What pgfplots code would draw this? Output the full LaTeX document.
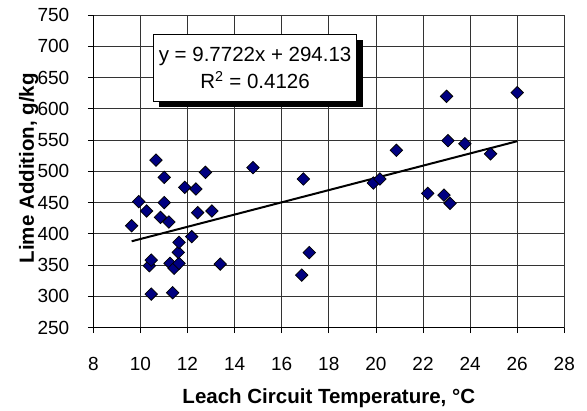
\documentclass[border=0pt]{standalone}
\usepackage{fontspec}
\setmainfont{Liberation Sans}
\usepackage{pgfplots}
\pgfplotsset{compat=1.18}
\definecolor{navy}{HTML}{000080}
\begin{document}
\begin{tikzpicture}
\begin{axis}[
  at={(0,0)}, anchor=south west,
  scale only axis, width=471bp, height=312.7bp,
  xmin=8, xmax=28, ymin=250, ymax=750,
  xtick={8,10,...,28}, ytick={250,300,...,750},
  axis lines*=left,
  grid=major, grid style={black!80, line width=0.8bp},
  axis line style={black, line width=0.8bp},
  tick style={black, line width=0.8bp}, tick align=outside, major tick length=5.5bp,
  /pgf/number format/assume math mode=true,
  ticklabel style={font=\fontsize{19bp}{22bp}\selectfont, inner sep=0pt},
  yticklabel style={anchor=east, xshift=-18.3bp},
  xticklabel style={anchor=north, yshift=-24bp},
  xlabel={Leach Circuit Temperature, °C},
  ylabel={Lime Addition, g/kg},
  xlabel style={at={(rel axis cs:0.5,0)}, anchor=center, yshift=-70.3bp, font=\fontsize{20.5bp}{24bp}\selectfont\bfseries},
  ylabel style={at={(rel axis cs:0,0.51)}, anchor=center, yshift=64.8bp, font=\fontsize{20.5bp}{24bp}\selectfont\bfseries},
]
\addplot[only marks, mark=square*, mark size=4.4bp, mark options={rotate=45, fill=navy, draw=black, line width=0.75bp}] coordinates {
(9.63,413) (9.93,451.5) (10.26,436.6) (10.66,518) (11.01,490.4) (11.01,450)
(10.85,426.4) (11.21,419) (10.38,349.1) (10.46,358) (10.46,303.8) (11.26,352.9)
(11.43,345) (11.37,306) (11.64,352.9) (11.61,370.5) (11.64,386.5) (11.88,474.4)
(12.36,471.8) (12.76,498.4) (12.43,434) (13.04,436.6) (12.18,395.5) (13.39,351.8)
(14.78,506) (16.92,487.8) (16.85,334.2) (17.17,370) (19.89,481.3) (20.17,487.8)
(20.87,533.6) (22.2,464.8) (22.89,462) (23.15,448.8) (23.0,620) (23.06,549)
(23.78,544.2) (24.87,528) (26.0,625.8)
};
\addplot[black, line width=2bp, no marks] coordinates {(9.63,388.2) (26,548.2)};
\node[fill=black, minimum width=203.4bp, minimum height=66.7bp, inner sep=0pt, xshift=6bp, yshift=-6bp] at (axis cs:14.87,665.7) {};
\node[draw=black, line width=0.8bp, fill=white, minimum width=203.4bp, minimum height=66.7bp, inner sep=0pt, align=center, font=\fontsize{20.5bp}{27.5bp}\selectfont] at (axis cs:14.87,665.7) {y = 9.7722x + 294.13\\R\textsuperscript{2} = 0.4126};
\end{axis}
\pgfresetboundingbox
\path[use as bounding box] (-93.3bp,-83.3bp) rectangle (493.7bp,327.7bp);
\end{tikzpicture}
\end{document}
